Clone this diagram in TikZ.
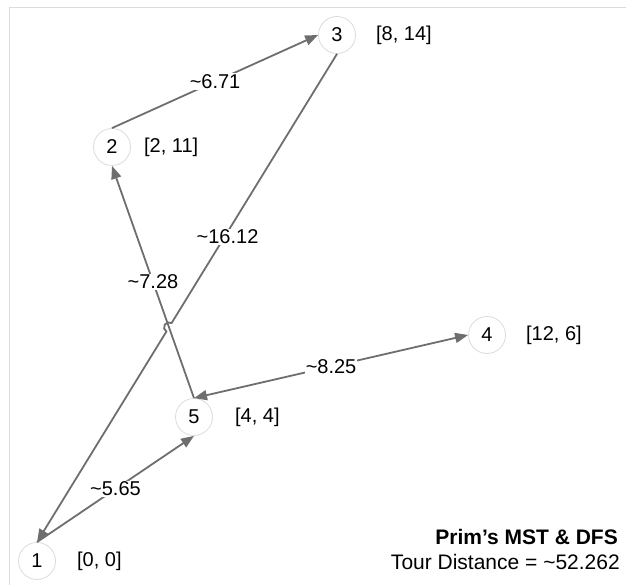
\documentclass[tikz,border=0pt]{standalone}
\usepackage{fontspec}
\setmainfont{Liberation Sans}
\usetikzlibrary{arrows.meta,positioning,intersections,calc}
\definecolor{edgegray}{HTML}{6E6E6E}
\definecolor{ringgray}{HTML}{DCDCDC}

\begin{document}
\begin{tikzpicture}[
  x=1pt, y=1pt,
  node distance=20pt,
  >={Triangle[length=13pt,width=10pt]},
  city/.style={circle, draw=ringgray, line width=0.8pt, fill=white, text=black,
               minimum size=37pt, inner sep=0pt, font=\fontsize{20}{24}\selectfont},
  coord/.style={inner sep=0pt, font=\fontsize{20}{24}\selectfont},
  wt/.style={fill=white, text=black, inner sep=1pt, font=\fontsize{20}{24}\selectfont},
  ar/.style={->, edgegray, line width=1.8pt},
]
\useasboundingbox (0,0) rectangle (626,585);
\draw[ringgray, line width=0.8pt] (626,578) -- (9,578) -- (9,0);

% Staedte
\node[city] (n1) at (37,24) {1};
\node[city] (n2) at (112,438) {2};
\node[city] (n3) at (337,550) {3};
\node[city] (n4) at (487,250) {4};
\node[city] (n5) at (194,168) {5};
\node[coord, right=21pt of n1] (c1) {[0, 0]};
\node[coord, right=13pt of n2] (c2) {[2, 11]};
\node[coord, right=of n3] (c3) {[8, 14]};
\node[coord, right=of n4] (c4) {[12, 6]};
\node[coord, right=22pt of n5] (c5) {[4, 4]};

% Tour
\draw[ar] (n1.north) -- node[wt] {\textasciitilde5.65} (n5.south);
\draw[ar] (n5.north) -- node[wt] {\textasciitilde7.28} (n2.south);
\draw[ar] (n2.north) -- node[wt] {\textasciitilde6.71} (n3.west);
\draw[ar, <->] (n5.north) -- node[wt] {\textasciitilde8.25} (n4.west);

% Rueckweg mit Sprung ueber die Kante 5-2
\path[name path=up] (n5.north) -- (n2.south);
\path[name path=back] (n3.south) -- (n1.north);
\path[name intersections={of=up and back, by=hop}];
\draw[ar] (n3.south) -- node[wt, pos=0.68, xshift=3pt] {\textasciitilde16.12} ($(hop)!5pt!(n3.south)$)
  arc[start angle=58.5, end angle=238.5, radius=5pt] -- (n1.north);

\node[anchor=base east, inner sep=0pt, font=\fontsize{21}{25}\selectfont\bfseries] (title) at (618,40) {Prim’s MST \& DFS};
\node[anchor=base east, inner sep=0pt, font=\fontsize{21}{25}\selectfont] (tour) at (620,15) {Tour Distance = \textasciitilde52.262};
\end{tikzpicture}
\end{document}
